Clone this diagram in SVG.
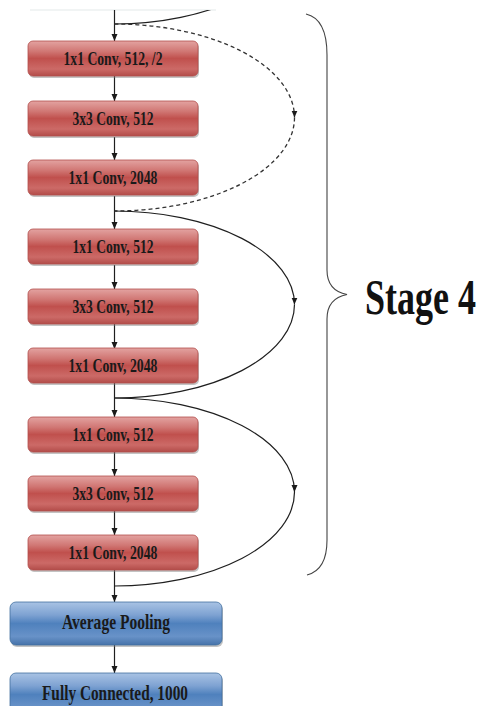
<svg xmlns="http://www.w3.org/2000/svg" width="480" height="706" viewBox="0 0 480 706">
<defs>
<linearGradient id="gRed" x1="0" y1="0" x2="0" y2="1">
<stop offset="0" stop-color="#e3a3a1"/>
<stop offset="0.3" stop-color="#d07673"/>
<stop offset="0.5" stop-color="#c0504d"/>
<stop offset="0.8" stop-color="#cc6a67"/>
<stop offset="1" stop-color="#b24c49"/>
</linearGradient>
<linearGradient id="gBlue" x1="0" y1="0" x2="0" y2="1">
<stop offset="0" stop-color="#a9c3e4"/>
<stop offset="0.3" stop-color="#7ea2d2"/>
<stop offset="0.5" stop-color="#4f81bd"/>
<stop offset="0.8" stop-color="#6892c8"/>
<stop offset="1" stop-color="#4673aa"/>
</linearGradient>
<marker id="ah" markerWidth="7" markerHeight="7" refX="7" refY="3.5" orient="auto" markerUnits="userSpaceOnUse">
<path d="M0,0.5 L7,3.5 L0,6.5 z" fill="#1a1a1a"/>
</marker>
<clipPath id="clipTop"><rect x="0" y="10" width="480" height="696"/></clipPath>
</defs>
<style>
.red{fill:url(#gRed);stroke:#b34f4c;stroke-width:0.8}
.blue{fill:url(#gBlue);stroke:#41709f;stroke-width:0.8}
.sh{fill:#7a7a7a;opacity:0.45}
.lbl{font-family:"Liberation Serif","Times New Roman",serif;font-weight:bold;font-size:18px;fill:#1a1a1a;text-anchor:middle}
.lblb{font-family:"Liberation Serif","Times New Roman",serif;font-weight:bold;font-size:21px;fill:#1a1a1a;text-anchor:middle}
.ln{fill:none;stroke:#1f1f1f;stroke-width:1.2}
.dash{fill:none;stroke:#333;stroke-width:1.3;stroke-dasharray:4,3}
.brace{fill:none;stroke:#444;stroke-width:1.1}
</style>
<rect width="480" height="706" fill="#ffffff"/>
<line x1="30" y1="10" x2="216" y2="10" stroke="#e3e9e9" stroke-width="1.2"/>

<g id="connectors">
<line class="ln" x1="114.5" y1="10" x2="114.5" y2="41" marker-end="url(#ah)"/>
<line class="ln" x1="114.5" y1="76" x2="114.5" y2="101" marker-end="url(#ah)"/>
<line class="ln" x1="114.5" y1="137" x2="114.5" y2="160" marker-end="url(#ah)"/>
<line class="ln" x1="114.5" y1="196" x2="114.5" y2="229" marker-end="url(#ah)"/>
<line class="ln" x1="114.5" y1="265" x2="114.5" y2="289" marker-end="url(#ah)"/>
<line class="ln" x1="114.5" y1="324" x2="114.5" y2="349" marker-end="url(#ah)"/>
<line class="ln" x1="114.5" y1="383" x2="114.5" y2="417" marker-end="url(#ah)"/>
<line class="ln" x1="114.5" y1="452" x2="114.5" y2="476" marker-end="url(#ah)"/>
<line class="ln" x1="114.5" y1="511" x2="114.5" y2="535" marker-end="url(#ah)"/>
<line class="ln" x1="114.5" y1="570" x2="114.5" y2="602" marker-end="url(#ah)"/>
<line class="ln" x1="114.5" y1="645" x2="114.5" y2="673" marker-end="url(#ah)"/>
<path class="ln" clip-path="url(#clipTop)" d="M294.5,-70 A180,94 0 0 1 114.5,24"/>
<path class="dash" d="M114.5,24 A180,93.5 0 0 1 294.5,117.5" marker-end="url(#ah)"/>
<path class="dash" d="M294.5,117.5 A180,93.5 0 0 1 114.5,211"/>
<path class="ln" d="M114.5,211 A180,93.5 0 0 1 294.5,304.5" marker-end="url(#ah)"/>
<path class="ln" d="M294.5,304.5 A180,93.5 0 0 1 114.5,398"/>
<path class="ln" d="M114.5,398 A180,94 0 0 1 294.5,492" marker-end="url(#ah)"/>
<path class="ln" d="M294.5,492 A180,94 0 0 1 114.5,586"/>
</g>

<g id="n1"><rect class="sh" x="29" y="43" width="170" height="35" rx="5"/><rect class="red" x="28" y="41" width="170" height="35" rx="5"/><text class="lbl" x="113" y="65" textLength="99" lengthAdjust="spacingAndGlyphs">1x1 Conv, 512, /2</text></g>
<g id="n2"><rect class="sh" x="29" y="103" width="170" height="35" rx="5"/><rect class="red" x="28" y="101" width="170" height="35" rx="5"/><text class="lbl" x="113" y="125" textLength="81" lengthAdjust="spacingAndGlyphs">3x3 Conv, 512</text></g>
<g id="n3"><rect class="sh" x="29" y="162" width="170" height="35" rx="5"/><rect class="red" x="28" y="160" width="170" height="35" rx="5"/><text class="lbl" x="113" y="184" textLength="89" lengthAdjust="spacingAndGlyphs">1x1 Conv, 2048</text></g>
<g id="n4"><rect class="sh" x="29" y="231" width="170" height="35" rx="5"/><rect class="red" x="28" y="229" width="170" height="35" rx="5"/><text class="lbl" x="113" y="253" textLength="81" lengthAdjust="spacingAndGlyphs">1x1 Conv, 512</text></g>
<g id="n5"><rect class="sh" x="29" y="291" width="170" height="35" rx="5"/><rect class="red" x="28" y="289" width="170" height="35" rx="5"/><text class="lbl" x="113" y="313" textLength="81" lengthAdjust="spacingAndGlyphs">3x3 Conv, 512</text></g>
<g id="n6"><rect class="sh" x="29" y="350" width="170" height="35" rx="5"/><rect class="red" x="28" y="348" width="170" height="35" rx="5"/><text class="lbl" x="113" y="372" textLength="89" lengthAdjust="spacingAndGlyphs">1x1 Conv, 2048</text></g>
<g id="n7"><rect class="sh" x="29" y="419" width="170" height="35" rx="5"/><rect class="red" x="28" y="417" width="170" height="35" rx="5"/><text class="lbl" x="113" y="441" textLength="81" lengthAdjust="spacingAndGlyphs">1x1 Conv, 512</text></g>
<g id="n8"><rect class="sh" x="29" y="478" width="170" height="35" rx="5"/><rect class="red" x="28" y="476" width="170" height="35" rx="5"/><text class="lbl" x="113" y="500" textLength="81" lengthAdjust="spacingAndGlyphs">3x3 Conv, 512</text></g>
<g id="n9"><rect class="sh" x="29" y="537" width="170" height="35" rx="5"/><rect class="red" x="28" y="535" width="170" height="35" rx="5"/><text class="lbl" x="113" y="559" textLength="89" lengthAdjust="spacingAndGlyphs">1x1 Conv, 2048</text></g>
<g id="n10"><rect class="sh" x="11" y="604" width="212" height="43" rx="6"/><rect class="blue" x="10" y="602" width="212" height="43" rx="6"/><text class="lblb" x="116" y="629" textLength="108" lengthAdjust="spacingAndGlyphs">Average Pooling</text></g>
<g id="n11"><rect class="sh" x="11" y="675" width="212" height="43" rx="6"/><rect class="blue" x="10" y="673" width="212" height="43" rx="6"/><text class="lblb" x="115" y="700" textLength="146" lengthAdjust="spacingAndGlyphs">Fully Connected, 1000</text></g>

<g id="stage4">
<path class="brace" d="M306,14 C319,17 327,30 327,55 L327,270 C327,285 334,292 347,294.5 C334,297 327,304 327,319 L327,540 C327,562 319,572 307,575"/>
<text transform="translate(365,314) scale(1,1.4)" x="0" y="0" font-family="'Liberation Serif','Times New Roman',serif" font-weight="bold" font-size="36" fill="#111">Stage 4</text>
</g>
</svg>
